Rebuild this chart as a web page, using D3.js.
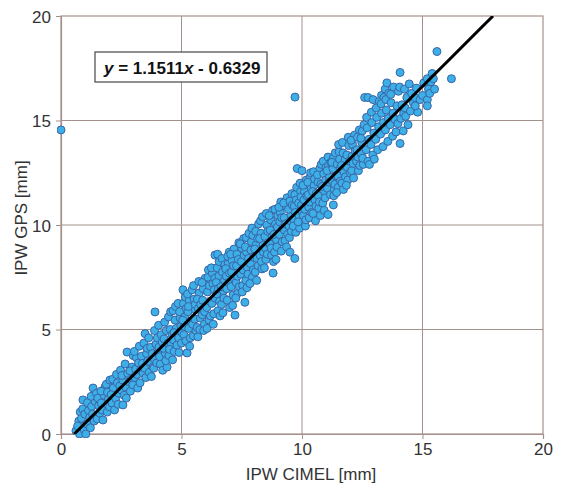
<!DOCTYPE html>
<html>
<head>
<meta charset="utf-8">
<script src="https://cdn.jsdelivr.net/npm/d3@7"></script>
<style>
  html, body { margin: 0; padding: 0; background: #fff; }
  svg { display: block; font-family: "Liberation Sans", Arial, sans-serif; }
</style>
</head>
<body>
<svg id="grafico" width="563" height="484"></svg>
<script>
// IPW CIMEL [mm] vs IPW GPS [mm]
const xTicks = [0, 5, 10, 15, 20];
const yTicks = [0, 5, 10, 15, 20];
const slope = 1.1511;
const intercept = -0.6329;
const equationText = ["y", " = 1.1511", "x", " - 0.6329"];

const lowRange = [
  [0.62,0.15],[0.74,0.62],[0.8,1.05],[0.69,0.38],[0.77,0.0],
  [0.91,1.63],[0.85,0.75],[0.96,0.2],[0.9,1.2],[0.99,0.95],
  [1.03,0.0],[1.08,0.48],[1.14,1.12],[1.19,0.8],[1.1,1.5],[1.22,0.3],
  [1.33,2.2],[1.27,1.32],[1.38,0.62],[1.31,0.95],[1.42,1.55],[1.25,1.8],
  [1.5,0.72],[1.56,1.35],[1.47,1.95],[1.61,1.0],[1.53,1.72],
  [1.74,0.67],[1.67,1.48],[1.79,1.85],[1.7,1.15],[1.83,2.25],[1.66,2.05],
  [1.92,1.05],[1.97,1.68],[1.88,2.38],[2.01,1.3],[1.93,2.0],
  [2.03,2.58],[2.12,1.48],[2.17,2.2],[2.08,1.88],[2.22,1.15],[2.15,2.62],
  [2.27,1.7],[2.34,2.45],[2.4,1.95],[2.3,2.85],[2.37,1.42],[2.44,2.3],
  [2.57,1.39],[2.5,2.1],[2.47,3.05],[2.56,2.58],[2.62,1.85],[2.53,2.8],
  [2.74,3.92],[2.68,2.25],[2.77,2.9],[2.71,1.72],[2.83,2.5],[2.66,3.35],
  [2.88,2.05],[2.95,3.2],[2.91,2.62],[3.0,3.75],[2.86,3.02],[2.98,2.35],
  [3.07,2.7],[3.13,3.65],[3.18,2.2],[3.1,3.1],[3.22,3.4],[3.04,3.95],[3.16,2.85],
  [3.28,2.45],[3.34,3.72],[3.3,3.05],[3.41,2.9],[3.25,4.2],[3.38,3.38],
  [3.49,4.8],[3.47,3.15],[3.55,3.85],[3.52,2.7],[3.6,3.5],[3.44,4.35],[3.58,4.1],
  [3.66,2.95],[3.72,4.15],[3.69,3.45],[3.79,3.85],[3.75,2.75],[3.64,4.6],[3.82,3.2],
  [3.9,5.84],[3.87,3.6],[3.94,4.3],[3.85,3.15],[4.0,4.6],[3.97,3.4],[3.88,4.95],[4.02,3.9],
  [4.06,4.15],[4.12,3.35],[4.16,4.75],[4.09,3.7],[4.2,4.4],[4.05,5.2],[4.22,3.05],
  [4.4,3.2],[4.28,4.55],[4.34,3.85],[4.3,5.35],[4.37,4.95],[4.26,4.1],[4.43,4.35],[4.35,3.5],
  [4.48,3.75],[4.53,5.0],[4.57,4.3],[4.46,5.6],[4.61,4.75],[4.5,4.05],[4.55,5.85],[4.63,3.55],
  [4.67,4.5],[4.73,5.45],[4.7,3.95],[4.78,5.05],[4.65,5.9],[4.81,4.25],[4.75,6.1],[4.69,4.85],
  [4.88,4.6],[4.94,5.55],[4.9,3.9],[4.98,5.15],[4.86,6.25],[5.0,4.35],[4.92,5.85],[5.02,4.85]
];

const midRange = [
  [5.06,6.9],[5.1,4.75],[5.14,5.6],[5.08,6.25],[5.18,4.45],[5.12,5.15],[5.2,6.0],[5.05,5.45],[5.16,6.55],
  [5.23,3.88],[5.3,5.05],[5.27,5.85],[5.36,4.6],[5.32,6.4],[5.25,6.7],[5.39,5.4],[5.34,4.2],[5.29,6.1],
  [5.46,5.25],[5.52,6.45],[5.49,4.7],[5.58,5.95],[5.44,6.9],[5.55,5.5],[5.6,4.95],[5.5,7.1],[5.57,6.2],
  [5.65,5.1],[5.7,6.0],[5.74,6.75],[5.68,4.65],[5.78,5.55],[5.72,7.3],[5.66,6.45],[5.8,6.2],[5.76,5.0],
  [5.86,5.7],[5.9,6.95],[5.95,5.25],[5.88,6.4],[5.98,7.45],[5.92,4.95],[6.0,6.1],[5.85,7.25],[5.96,5.85],
  [6.05,6.05],[6.1,7.5],[6.14,5.45],[6.08,6.8],[6.18,6.35],[6.12,7.85],[6.2,5.65],[6.06,5.05],[6.16,7.1],
  [6.39,8.56],[6.26,6.25],[6.3,7.2],[6.34,5.75],[6.28,7.7],[6.36,6.9],[6.32,5.25],[6.4,6.5],[6.24,7.95],[6.38,7.45],
  [6.5,8.6],[6.46,6.7],[6.52,5.9],[6.55,7.55],[6.48,7.95],[6.58,6.35],[6.44,7.25],[6.56,8.25],[6.6,5.65],[6.53,6.95],
  [6.66,6.2],[6.7,7.75],[6.74,6.85],[6.68,8.4],[6.78,7.35],[6.72,5.8],[6.64,7.05],[6.8,8.1],[6.76,6.5],
  [6.98,8.7],[6.86,7.55],[6.9,6.4],[6.94,8.15],[6.88,6.95],[6.96,7.25],[6.92,8.5],[7.0,6.05],[6.84,7.9],[6.99,7.7],
  [7.06,7.05],[7.1,8.3],[7.14,6.65],[7.08,7.75],[7.18,8.85],[7.12,6.15],[7.04,8.6],[7.2,7.4],[7.16,8.05],
  [7.22,5.69],[7.27,7.25],[7.3,8.6],[7.34,6.75],[7.28,8.05],[7.38,9.15],[7.32,7.55],[7.25,6.5],[7.36,8.35],[7.4,7.05],
  [7.46,7.65],[7.5,8.9],[7.54,7.1],[7.48,8.25],[7.58,9.35],[7.52,6.8],[7.44,9.1],[7.56,7.85],[7.6,8.55],
  [7.63,6.3],[7.67,7.35],[7.7,8.7],[7.74,7.95],[7.68,9.4],[7.78,8.4],[7.72,7.0],[7.65,8.95],[7.76,7.65],[7.8,9.6],
  [7.86,8.15],[7.9,9.2],[7.94,7.5],[7.88,8.8],[7.98,7.85],[7.92,9.85],[7.84,7.2],[8.0,8.45],[7.96,9.5],
  [8.06,7.75],[8.1,9.05],[8.14,8.4],[8.08,9.7],[8.18,8.05],[8.12,7.35],[8.04,8.85],[8.2,10.05],[8.16,9.35],
  [8.26,8.55],[8.3,9.6],[8.34,7.9],[8.28,10.2],[8.38,9.05],[8.32,8.25],[8.24,9.35],[8.4,8.7],[8.36,10.4],
  [8.46,9.45],[8.5,8.35],[8.54,10.0],[8.48,8.9],[8.58,9.7],[8.52,10.55],[8.44,7.95],[8.6,9.15],[8.56,8.6],
  [8.8,7.7],[8.66,9.1],[8.7,10.25],[8.74,8.55],[8.68,9.75],[8.78,10.7],[8.72,8.9],[8.64,10.45],[8.76,9.45],[8.82,8.25],
  [8.86,8.7],[8.9,10.05],[8.94,9.3],[8.88,10.75],[8.98,9.9],[8.92,8.35],[8.84,9.55],[9.0,10.45],[8.96,8.95],
  [9.06,9.55],[9.1,10.6],[9.14,8.75],[9.08,10.15],[9.18,9.2],[9.12,11.1],[9.04,10.85],[9.2,9.85],[9.16,10.35],
  [9.26,10.35],[9.3,9.25],[9.34,10.9],[9.28,9.75],[9.38,11.3],[9.32,10.05],[9.24,11.05],[9.4,9.55],[9.36,8.95],
  [9.5,8.7],[9.46,9.95],[9.5,11.15],[9.54,10.5],[9.48,9.4],[9.58,11.5],[9.52,10.2],[9.44,10.75],[9.56,9.7],[9.6,10.95],
  [9.7,8.4],[9.66,10.25],[9.7,11.45],[9.74,9.65],[9.68,10.9],[9.78,11.8],[9.72,10.6],[9.64,9.95],[9.76,11.2],[9.8,12.7],
  [10.0,12.6],[9.86,11.05],[9.9,9.85],[9.94,11.6],[9.88,10.45],[9.98,10.95],[9.92,12.0],[9.84,10.15],[9.96,11.35],[10.02,10.6]
];

const highRange = [
  [10.06,10.45],[10.1,11.6],[10.14,9.95],[10.08,11.2],[10.18,12.15],[10.12,10.75],[10.04,11.9],[10.2,11.4],[10.16,10.25],
  [10.26,11.45],[10.3,10.35],[10.34,12.3],[10.28,10.85],[10.38,11.75],[10.32,11.1],[10.24,12.05],[10.4,10.6],[10.36,12.5],
  [10.46,10.55],[10.5,11.9],[10.54,11.2],[10.48,12.55],[10.58,10.9],[10.52,12.2],[10.44,11.6],[10.6,11.5],[10.56,10.2],
  [10.66,12.05],[10.7,10.8],[10.74,12.7],[10.68,11.4],[10.78,11.95],[10.72,11.1],[10.64,12.4],[10.8,12.9],[10.76,10.45],
  [10.86,11.05],[10.9,12.45],[10.94,11.6],[10.88,13.05],[10.98,12.15],[10.92,10.7],[10.84,11.85],[11.0,12.75],[10.96,11.3],
  [11.08,10.5],[11.3,10.96],[11.06,11.75],[11.1,12.85],[11.14,12.3],[11.08,13.25],[11.18,11.45],[11.12,12.05],[11.04,12.6],[11.2,13.0],
  [11.26,12.1],[11.3,13.2],[11.34,11.7],[11.28,12.7],[11.38,13.45],[11.32,11.4],[11.24,13.0],[11.4,12.35],[11.36,11.95],
  [11.46,12.9],[11.5,11.8],[11.54,13.5],[11.48,12.35],[11.58,12.7],[11.52,13.85],[11.44,11.55],[11.6,12.1],[11.56,13.15],
  [11.66,12.0],[11.7,13.45],[11.74,12.55],[11.68,13.95],[11.78,13.1],[11.72,11.7],[11.64,12.85],[11.8,12.3],
  [11.86,13.35],[11.9,12.15],[11.94,13.8],[11.88,12.75],[11.98,13.05],[11.92,14.2],[11.84,11.9],[12.0,12.5],
  [12.06,12.6],[12.1,13.85],[12.14,12.25],[12.08,13.3],[12.18,14.3],[12.12,12.95],[12.04,14.05],[12.2,13.55],
  [12.26,13.05],[12.3,14.2],[12.34,12.6],[12.28,13.6],[12.38,14.55],[12.32,13.25],[12.4,12.85],
  [12.6,16.1],[12.46,13.4],[12.5,14.5],[12.54,12.9],[12.48,13.95],[12.58,14.8],[12.52,13.2],[12.44,14.15],
  [12.74,16.1],[12.66,13.6],[12.7,14.65],[12.74,13.05],[12.68,15.15],[12.78,14.1],[12.8,12.9],
  [12.95,16.0],[12.86,13.85],[12.9,14.9],[12.94,13.35],[12.88,15.4],[12.98,14.4],[13.0,13.15],
  [13.3,16.2],[13.2,15.9],[13.06,14.1],[13.1,15.15],[13.14,13.6],[13.08,15.6],[13.18,14.7],
  [13.45,16.5],[13.4,16.1],[13.26,14.35],[13.3,15.35],[13.36,13.75],[13.28,15.8],[13.38,14.9],
  [13.52,16.8],[13.6,16.3],[13.46,14.55],[13.5,15.5],[13.56,14.0],[13.48,16.0],[13.58,15.1],
  [13.8,16.6],[13.66,14.8],[13.7,15.85],[13.76,14.25],[13.68,16.25],[13.78,15.35],
  [14.07,17.3],[14.0,16.4],[13.86,15.05],[13.9,14.45],[13.94,15.7],[13.98,14.85],
  [14.07,13.9],[14.1,15.1],[14.15,15.75],[14.2,14.5],[14.05,16.6],[14.22,15.35],
  [14.3,15.2],[14.35,16.1],[14.4,14.8],[14.28,15.6],[14.25,16.5],
  [14.5,15.45],[14.55,16.3],[14.62,15.85],[14.45,16.75],[14.8,15.4],
  [14.7,15.7],[14.75,16.55],[14.68,16.1],[14.9,16.0],
  [15.0,16.2],[15.05,16.8],[15.2,16.0],[15.25,16.5],[15.2,17.0],[15.3,16.3],[15.2,15.7],
  [15.35,16.85],[15.4,17.25],[15.45,17.0],[15.5,16.5],[15.6,18.3],[16.2,17.0]
];

const outliers = [[0.0,14.55],[9.71,16.12]];

const config = {
  margin: { top: 16, right: 20, bottom: 50, left: 61 },
  gridColor: "#a3928b",
  textColor: "#333333",
  pointFill: "#3cb0e6",
  pointStroke: "#3a64a8",
  radius: 4
};

const svg = d3.select("#grafico");
const innerW = 543 - config.margin.left;
const innerH = 434 - config.margin.top;

const x = d3.scaleLinear().domain([0, 20]).range([0, innerW]);
const y = d3.scaleLinear().domain([0, 20]).range([innerH, 0]);

const g = svg.append("g")
  .attr("transform", `translate(${config.margin.left},${config.margin.top})`);

// grid lines
g.append("g").selectAll("line")
  .data(xTicks.slice(1, -1))
  .enter().append("line")
  .attr("x1", d => x(d)).attr("x2", d => x(d))
  .attr("y1", 0).attr("y2", innerH)
  .attr("stroke", config.gridColor).attr("stroke-width", 1);

g.append("g").selectAll("line")
  .data(yTicks.slice(1, -1))
  .enter().append("line")
  .attr("y1", d => y(d)).attr("y2", d => y(d))
  .attr("x1", 0).attr("x2", innerW)
  .attr("stroke", config.gridColor).attr("stroke-width", 1);

// frame
g.append("rect")
  .attr("width", innerW).attr("height", innerH)
  .attr("fill", "none")
  .attr("stroke", config.gridColor).attr("stroke-width", 1.2);

// axes
const eixoX = g.append("g")
  .attr("transform", `translate(0,${innerH})`)
  .call(d3.axisBottom(x).tickValues(xTicks).tickSize(5).tickPadding(4).tickFormat(d3.format("d")));
const eixoY = g.append("g")
  .call(d3.axisLeft(y).tickValues(yTicks).tickSize(5).tickPadding(5).tickFormat(d3.format("d")));

[eixoX, eixoY].forEach(ax => {
  ax.select(".domain").attr("stroke", config.gridColor).attr("stroke-width", 1.2);
  ax.selectAll(".tick line").attr("stroke", config.gridColor);
  ax.selectAll(".tick text")
    .attr("fill", config.textColor)
    .style("font-size", "17px")
    .style("font-family", "'Liberation Sans', Arial, sans-serif");
});
eixoY.selectAll(".tick text").attr("dy", "0.36em");

// clip for points and regression line
const defs = svg.append("defs");
defs.append("clipPath").attr("id", "area")
  .append("rect").attr("x", -4).attr("y", -4)
  .attr("width", innerW + 8).attr("height", innerH + 8);
defs.append("clipPath").attr("id", "areaLinha")
  .append("rect").attr("width", innerW).attr("height", innerH);

const pontos = lowRange.concat(midRange, highRange, outliers);

g.append("g").attr("clip-path", "url(#area)")
  .selectAll("circle")
  .data(pontos)
  .enter().append("circle")
  .attr("cx", d => x(d[0]))
  .attr("cy", d => y(d[1]))
  .attr("r", config.radius)
  .attr("fill", config.pointFill)
  .attr("stroke", config.pointStroke)
  .attr("stroke-width", 1);

// regression line y = 1.1511x - 0.6329
const x0 = -intercept / slope;
const x1 = (20 - intercept) / slope;
g.append("line")
  .attr("clip-path", "url(#areaLinha)")
  .attr("x1", x(x0)).attr("y1", y(slope * x0 + intercept))
  .attr("x2", x(x1)).attr("y2", y(slope * x1 + intercept))
  .attr("stroke", "#000").attr("stroke-width", 3);

// equation box
svg.append("rect")
  .attr("x", 95).attr("y", 52).attr("width", 172).attr("height", 30)
  .attr("fill", "#fff").attr("stroke", "#555").attr("stroke-width", 1.3);

const eq = svg.append("text")
  .attr("x", 104).attr("y", 74)
  .attr("fill", "#111")
  .style("font-size", "17px").style("font-weight", "bold");
equationText.forEach((t, i) => {
  eq.append("tspan").text(t).style("font-style", i % 2 === 0 ? "italic" : "normal");
});

// axis titles
svg.append("text")
  .attr("x", 311).attr("y", 480)
  .attr("text-anchor", "middle")
  .attr("fill", config.textColor)
  .style("font-size", "17px")
  .text("IPW CIMEL [mm]");

svg.append("text")
  .attr("transform", "translate(27,218) rotate(-90)")
  .attr("text-anchor", "middle")
  .attr("fill", config.textColor)
  .style("font-size", "17px")
  .text("IPW GPS [mm]");
</script>
</body>
</html>
